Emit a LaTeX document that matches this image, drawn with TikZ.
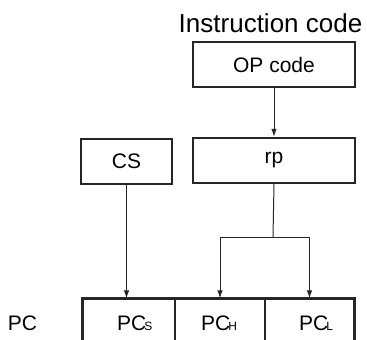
\documentclass[tikz,border=0pt]{standalone}
\usepackage{fontspec}
\setmainfont{Liberation Sans}
\usetikzlibrary{arrows.meta}
\tikzset{
  box/.style={draw=black!85, line width=2.4pt, rectangle, inner sep=0pt, font=\fontsize{21}{24}\selectfont},
  conn/.style={draw=black!85, line width=1pt},
  arr/.style={conn, -{Latex[length=8pt,width=5.5pt]}},
  txt/.style={inner sep=0pt, font=\fontsize{21}{24}\selectfont},
  cell/.style={draw=black!85, line width=1.2pt, rectangle, inner sep=0pt, minimum height=52pt},
}
\newcommand{\regname}[1]{PC\kern-2pt{\fontsize{12}{12}\selectfont #1}}
\begin{document}
\begin{tikzpicture}[x=1pt,y=-1pt]
\useasboundingbox (0,0) rectangle (367,340);
\clip (0,0) rectangle (367,340);
% title
\node[txt, anchor=base, font=\fontsize{26}{30}\selectfont] (title) at (270.5,32) {Instruction code};
% boxes
\node[box, minimum width=162pt, minimum height=45pt] (op) at (274,64.5) {OP code};
\node[box, minimum width=162pt, minimum height=45pt] (rp) at (274,160.5) {rp};
\node[box, minimum width=91pt, minimum height=45pt] (cs) at (126.5,161.5) {CS};
% register cells
\node[cell, minimum width=92pt] (pcs) at (129,325) {};
\node[cell, minimum width=90pt] (pch) at (220,325) {};
\node[cell, minimum width=89pt] (pcl) at (309.5,325) {};
\draw[draw=black!85, line width=2.4pt] (pcs.south west) |- (pcl.north east) -- (pcl.south east);
\node[txt, anchor=base west] (tpcs) at (117,330) {\regname{S}};
\node[txt, anchor=base west] (tpch) at (201,330) {\regname{H}};
\node[txt, anchor=base west] (tpcl) at (299,330) {\regname{L}};
\node[txt, anchor=base] (pclabel) at (22.5,330) {PC};
% connectors
\draw[arr] (op.south) -- (rp.north);
\draw[arr] (cs.south) -- (cs.south |- pcs.north);
\coordinate (split) at (273,237);
\draw[conn] (rp.south) -- (split);
\draw[arr] (split) -| (pch.north);
\draw[arr] (split) -| (pcl.north);
\end{tikzpicture}
\end{document}
